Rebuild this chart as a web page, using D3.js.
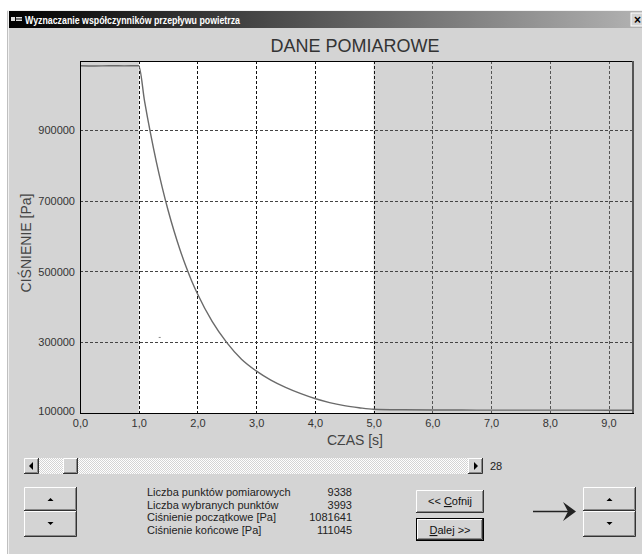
<!DOCTYPE html>
<html><head><meta charset="utf-8">
<script src="https://cdn.jsdelivr.net/npm/d3@7"></script>
<style>body{margin:0;background:#fff}svg{display:block}</style>
</head><body><svg id="c" width="642" height="554"></svg>
<script>
// ---- data ----
const timeS = [0.0, 0.25, 0.5, 0.75, 1.0, 1.1, 1.2, 1.3, 1.4, 1.5, 1.6, 1.7, 1.8, 1.9, 2.0,
  2.25, 2.5, 2.75, 3.0, 3.25, 3.5, 3.75, 4.0, 4.25, 4.5, 4.75, 5.0, 5.5, 6.0, 6.5, 7.0, 7.5, 8.0, 8.5, 9.0, 9.4];
const pressurePa = [1081641, 1081000, 1081641, 1081300, 1081641, 981000, 891000, 810000, 738000, 673000, 615000, 563000, 516000, 474000, 437000,
  359000, 299000, 252000, 219000, 193000, 172500, 155500, 141000, 129500, 121000, 115000, 110500, 109000, 108500, 108500, 108000, 108200, 108000, 108000, 107800, 107800];
const xTicks = [0, 1, 2, 3, 4, 5, 6, 7, 8, 9];
const yTicks = [100000, 300000, 500000, 700000, 900000];
const selectedRange = [1.0, 5.0];
const xDomain = [0, 9.4];
const yDomain = [100000, 1095000];
const infoLabels = ["Liczba punktów pomiarowych", "Liczba wybranych punktów", "Ciśnienie początkowe [Pa]", "Ciśnienie końcowe [Pa]"];
const infoValues = ["9338", "3993", "1081641", "111045"];
const sliderValue = "28";

const svg = d3.select("#c");
const F = "'Liberation Sans', Arial, sans-serif";
const BG = "#d4d4d4";

// window frame
svg.append("rect").attr("x", 7).attr("y", 10).attr("width", 640).attr("height", 550).attr("fill", BG);
svg.append("line").attr("x1", 8.5).attr("x2", 8.5).attr("y1", 10).attr("y2", 554).attr("stroke", "#f2f2f2").attr("stroke-width", 1);
svg.append("line").attr("x1", 7.5).attr("x2", 7.5).attr("y1", 10).attr("y2", 554).attr("stroke", "#c0c0c0").attr("stroke-width", 1);
svg.append("line").attr("x1", 7).attr("x2", 642).attr("y1", 10.5).attr("y2", 10.5).attr("stroke", "#f2f2f2");

// title bar
const defs = svg.append("defs");
const g = defs.append("linearGradient").attr("id", "tb");
g.append("stop").attr("offset", "0%").attr("stop-color", "#000");
g.append("stop").attr("offset", "100%").attr("stop-color", "#b4b4b4");
svg.append("rect").attr("x", 9).attr("y", 11).attr("width", 640).attr("height", 17).attr("fill", "url(#tb)");
svg.append("rect").attr("x", 11).attr("y", 17).attr("width", 4).attr("height", 4).attr("fill", "#ddd");
svg.append("rect").attr("x", 16).attr("y", 17).attr("width", 6).attr("height", 1.5).attr("fill", "#ddd");
svg.append("rect").attr("x", 16).attr("y", 19.5).attr("width", 6).attr("height", 1.5).attr("fill", "#ddd");
svg.append("text").attr("x", 25).attr("y", 23.5).attr("fill", "#fff").attr("font-family", F)
  .attr("font-weight", "bold").attr("font-size", 11.5).attr("textLength", 215).attr("lengthAdjust", "spacingAndGlyphs")
  .text("Wyznaczanie współczynników przepływu powietrza");
svg.append("rect").attr("x", 631).attr("y", 13).attr("width", 16).attr("height", 13).attr("fill", BG)
  .attr("stroke", "#fff").attr("stroke-width", 1);
svg.append("text").attr("x", 634).attr("y", 24).attr("font-family", F).attr("font-size", 12).attr("font-weight", "bold").attr("fill", "#000").text("×");

// chart title
svg.append("text").attr("x", 355).attr("y", 52).attr("text-anchor", "middle").attr("font-family", F)
  .attr("font-size", 18).attr("fill", "#333").text("DANE POMIAROWE");

// plot
const L = 80, R = 632, T = 61, B = 413;
const x = d3.scaleLinear().domain(xDomain).range([L, R]);
const y = d3.scaleLinear().domain(yDomain).range([B, T]);

svg.append("rect").attr("x", L).attr("y", T).attr("width", R - L).attr("height", B - T).attr("fill", BG);
svg.append("rect").attr("x", x(selectedRange[0])).attr("y", T).attr("width", x(selectedRange[1]) - x(selectedRange[0]))
  .attr("height", B - T).attr("fill", "#fff");

// grid
const grid = svg.append("g").attr("stroke", "#111").attr("stroke-width", 1).attr("stroke-dasharray", "3,2");
grid.selectAll("line.v").data(xTicks.filter(d => d > 0)).join("line")
  .attr("x1", d => Math.round(x(d)) + 0.5).attr("x2", d => Math.round(x(d)) + 0.5).attr("y1", T).attr("y2", B)
  .attr("stroke", d => (d > selectedRange[1] ? "#555" : "#111"));
grid.selectAll("line.h").data(yTicks.filter(d => d > yDomain[0])).join("line")
  .attr("x1", L).attr("x2", R).attr("y1", d => Math.round(y(d)) + 0.5).attr("y2", d => Math.round(y(d)) + 0.5)
  .attr("stroke", "#444");

// curve
const line = d3.line().x((d, i) => x(timeS[i])).y(d => y(d)).curve(d3.curveMonotoneX);
svg.append("path").attr("d", line(pressurePa)).attr("fill", "none").attr("stroke", "#6a6a6a").attr("stroke-width", 1.4);
// stray sample point
svg.append("rect").attr("x", x(1.34)).attr("y", y(315000)).attr("width", 2).attr("height", 1).attr("fill", "#888");

// axes borders
svg.append("line").attr("x1", L + 0.5).attr("x2", L + 0.5).attr("y1", T).attr("y2", B).attr("stroke", "#000");
svg.append("line").attr("x1", L).attr("x2", R + 1).attr("y1", T + 0.5).attr("y2", T + 0.5).attr("stroke", "#000");
svg.append("line").attr("x1", L).attr("x2", R + 2).attr("y1", B + 0.5).attr("y2", B + 0.5).attr("stroke", "#000");
svg.append("line").attr("x1", R + 1).attr("x2", R + 1).attr("y1", T).attr("y2", B).attr("stroke", "#555").attr("stroke-width", 2);

// x axis labels
const xa = svg.append("g").attr("transform", `translate(0,${B})`)
  .call(d3.axisBottom(x).tickValues(xTicks).tickSize(0).tickPadding(6).tickFormat(d => d3.format(".1f")(d).replace(".", ",")));
xa.select(".domain").remove();
xa.selectAll("text").attr("font-family", F).attr("font-size", 11).attr("fill", "#333");

// y axis labels
const ya = svg.append("g").attr("transform", `translate(${L},0)`)
  .call(d3.axisLeft(y).tickValues(yTicks).tickSize(0).tickPadding(5).tickFormat(d3.format("d")));
ya.select(".domain").remove();
ya.selectAll("text").attr("font-family", F).attr("font-size", 11).attr("fill", "#333");
ya.selectAll(".tick").filter(d => d === 100000).select("text").attr("dy", "0.1em");

svg.append("text").attr("x", 355).attr("y", 445).attr("text-anchor", "middle").attr("font-family", F)
  .attr("font-size", 14).attr("fill", "#444").text("CZAS [s]");
svg.append("text").attr("transform", "translate(31,243) rotate(-90)").attr("text-anchor", "middle")
  .attr("font-family", F).attr("font-size", 14).attr("fill", "#444").text("CIŚNIENIE [Pa]");

// 3D button helper
function btn(x0, y0, w, h, thick) {
  const gg = svg.append("g");
  gg.append("rect").attr("x", x0).attr("y", y0).attr("width", w).attr("height", h).attr("fill", BG);
  gg.append("path").attr("d", `M${x0 + 0.5},${y0 + h - 1}V${y0 + 0.5}H${x0 + w - 1}`).attr("fill", "none").attr("stroke", "#fff");
  gg.append("path").attr("d", `M${x0},${y0 + h - 0.5}H${x0 + w - 0.5}V${y0}`).attr("fill", "none").attr("stroke", "#333");
  gg.append("path").attr("d", `M${x0 + 1},${y0 + h - 1.5}H${x0 + w - 1.5}V${y0 + 1}`).attr("fill", "none").attr("stroke", "#888");
  if (thick) gg.append("rect").attr("x", x0 - 0.5).attr("y", y0 - 0.5).attr("width", w + 1).attr("height", h + 1)
    .attr("fill", "none").attr("stroke", "#000");
  return gg;
}

// scrollbar
const pat = defs.append("pattern").attr("id", "hatch").attr("width", 2).attr("height", 2).attr("patternUnits", "userSpaceOnUse");
pat.append("rect").attr("width", 2).attr("height", 2).attr("fill", "#fff");
pat.append("rect").attr("width", 1).attr("height", 1).attr("fill", BG);
pat.append("rect").attr("x", 1).attr("y", 1).attr("width", 1).attr("height", 1).attr("fill", BG);
svg.append("rect").attr("x", 24).attr("y", 458).attr("width", 459).attr("height", 16).attr("fill", "url(#hatch)");
btn(24, 458, 15, 16);
btn(468, 458, 15, 16);
btn(63, 458, 15, 16);
svg.append("path").attr("d", "M29,466 L33,462 L33,470 Z").attr("fill", "#000");
svg.append("path").attr("d", "M478,466 L474,462 L474,470 Z").attr("fill", "#000");
svg.append("text").attr("x", 490).attr("y", 470).attr("font-family", F).attr("font-size", 11).attr("fill", "#222").text(sliderValue);

// up/down buttons
[24, 583].forEach(bx => {
  btn(bx, 487, 53, 24);
  btn(bx, 511, 53, 26);
  svg.append("path").attr("d", `M${bx + 23.5},${501} L${bx + 26.5},${498} L${bx + 29.5},${501} Z`).attr("fill", "#000");
  svg.append("path").attr("d", `M${bx + 23.5},${522} L${bx + 26.5},${525} L${bx + 29.5},${522} Z`).attr("fill", "#000");
});

// info labels
svg.append("g").selectAll("text").data(infoLabels).join("text")
  .attr("x", 147).attr("y", (d, i) => 496 + i * 12.7).attr("font-family", F).attr("font-size", 11).attr("fill", "#222").text(d => d);
svg.append("g").selectAll("text").data(infoValues).join("text")
  .attr("x", 352).attr("y", (d, i) => 496 + i * 12.7).attr("text-anchor", "end").attr("font-family", F)
  .attr("font-size", 11).attr("fill", "#222").text(d => d);

// Cofnij / Dalej buttons
btn(416, 490, 68, 23);
btn(417, 519, 66, 21, true);
const t1 = svg.append("text").attr("x", 450).attr("y", 505).attr("text-anchor", "middle").attr("font-family", F).attr("font-size", 11).attr("fill", "#111");
t1.append("tspan").text("<< ");
t1.append("tspan").attr("text-decoration", "underline").text("C");
t1.append("tspan").text("ofnij");
const t2 = svg.append("text").attr("x", 450).attr("y", 534).attr("text-anchor", "middle").attr("font-family", F).attr("font-size", 11).attr("fill", "#111");
t2.append("tspan").attr("text-decoration", "underline").text("D");
t2.append("tspan").text("alej >>");

// arrow
svg.append("line").attr("x1", 533).attr("x2", 570).attr("y1", 511.5).attr("y2", 511.5).attr("stroke", "#222").attr("stroke-width", 1.5);
svg.append("path").attr("d", "M563,502 L576,511.5 L563,521 L568,511.5 Z").attr("fill", "#222");
</script></body></html>
